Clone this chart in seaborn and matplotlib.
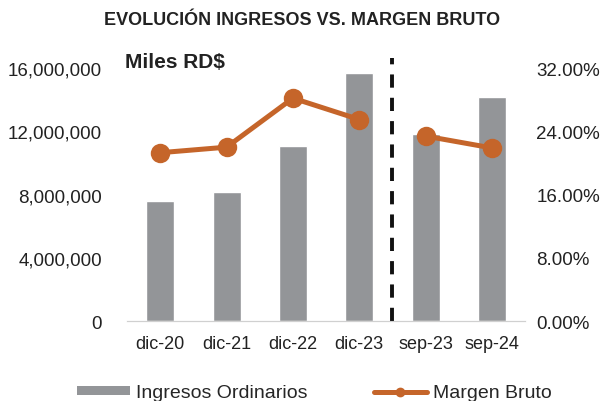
import matplotlib
matplotlib.use('Agg')
import matplotlib.pyplot as plt
import matplotlib.ticker as mticker
from matplotlib.lines import Line2D
from matplotlib.patches import Patch
import seaborn as sns
import pandas as pd

sns.set_style('white')
plt.rcParams['font.family'] = ['Liberation Sans', 'DejaVu Sans']

# Data
periodos = ['dic-20', 'dic-21', 'dic-22', 'dic-23', 'sep-23', 'sep-24']
ingresos = [7610000, 8160000, 11090000, 15690000, 11830000, 14150000]
margen = [0.213, 0.220, 0.282, 0.255, 0.234, 0.219]

bar_color = '#939598'
line_color = '#C5652A'

df = pd.DataFrame({'periodo': periodos, 'ingresos': ingresos,
                   'margen': margen, 'x': range(len(periodos))})

fig = plt.figure(figsize=(6.05, 4.02), dpi=100)
ax = fig.add_axes([0.21, 0.199, 0.658, 0.629])

sns.barplot(data=df, x='periodo', y='ingresos', color=bar_color,
            width=0.42, saturation=1, ax=ax)
ax.set_ylim(0, 16000000)
ax.set_yticks([0, 4000000, 8000000, 12000000, 16000000])
ax.yaxis.set_major_formatter(mticker.FuncFormatter(lambda v, p: f'{int(v):,}'))
ax.set_xlabel('')
ax.set_ylabel('')
ax.set_xlim(-0.5, 5.5)

ax2 = ax.twinx()
# line is broken between the annual and the interim periods
for part in (df.iloc[:4], df.iloc[4:]):
    sns.lineplot(data=part, x='x', y='margen', color=line_color, lw=3.6,
                 marker='o', markersize=14, markeredgewidth=0, ax=ax2,
                 legend=False)
ax2.set_ylim(0, 0.32)
ax2.set_yticks([0, 0.08, 0.16, 0.24, 0.32])
ax2.yaxis.set_major_formatter(mticker.FuncFormatter(lambda v, p: f'{v*100:.2f}%'))
ax2.set_ylabel('')
ax2.set_xlim(-0.5, 5.5)

for a in (ax, ax2):
    for s in ['top', 'left', 'right']:
        a.spines[s].set_visible(False)
    a.spines['bottom'].set_color('#d0d0d0')
    a.tick_params(axis='y', length=0, labelsize=13.5, colors='#222222')

ax.set_xticks([-0.5, 0.5, 1.5, 2.5, 3.5, 4.5, 5.5], minor=True)
ax.tick_params(axis='x', which='major', length=0, labelsize=13,
               colors='#222222', pad=10)
ax.tick_params(axis='x', which='minor', length=5, color='#d0d0d0')
ax.tick_params(axis='y', pad=18)
ax2.tick_params(axis='y', pad=8)

# dashed separator
ax.plot([3.5, 3.5], [0, 1.04], transform=ax.get_xaxis_transform(),
        color='#111111', lw=2.8, ls=(0, (3.4, 2.6)), clip_on=False, zorder=5)

fig.text(0.5, 0.95, 'EVOLUCIÓN INGRESOS VS. MARGEN BRUTO', ha='center',
         va='center', fontsize=13, fontweight='bold', color='#222222')
fig.text(0.207, 0.845, 'Miles RD$', ha='left', va='center',
         fontsize=15, fontweight='bold', color='#222222')

handles = [Patch(facecolor=bar_color, edgecolor='none'),
           Line2D([], [], color=line_color, lw=3.6, marker='o', markersize=6)]
fig.legend(handles, ['Ingresos Ordinarios', 'Margen Bruto'], loc='center',
           bbox_to_anchor=(0.52, 0.02), ncol=2, frameon=False, fontsize=14,
           columnspacing=3.4, handlelength=2.7, handleheight=0.35,
           handletextpad=0.35)

plt.savefig('out.png', dpi=100)
